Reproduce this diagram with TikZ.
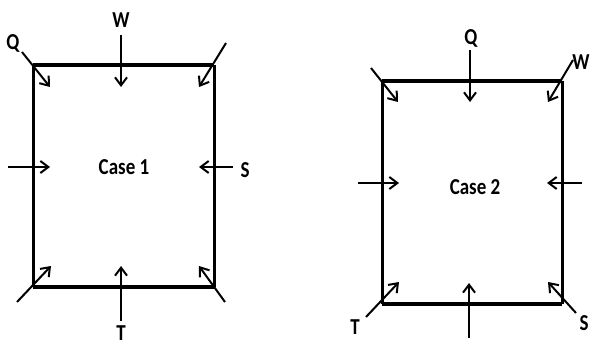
\documentclass[tikz,border=0pt]{standalone}
\usepackage{fontspec}
\setmainfont{Carlito}
\usetikzlibrary{arrows.meta}
\tikzset{
  force/.style={line width=2pt, -{Straight Barb[length=8pt,width=12pt,line width=2pt]}},
  hline/.style={line width=4pt, line cap=square},
  vline/.style={line width=3pt},
  lbl/.style={inner sep=0pt, font=\fontsize{19}{19}\selectfont\bfseries},
}
\newcommand{\tallt}[1]{\scalebox{1}[1.2]{#1}}
\begin{document}
\begin{tikzpicture}[x=1pt,y=-1pt]
\useasboundingbox (0,0) rectangle (590,345);
% ---------- Case 1 ----------
\coordinate (a1) at (33,65);
\coordinate (b1) at (214,65);
\coordinate (c1) at (214,287);
\coordinate (d1) at (33,287);
\draw[vline] (a1) -- (d1);
\draw[vline] (b1) -- (c1);
\draw[hline] (a1) -- (b1);
\draw[hline] (d1) -- (c1);
\node[lbl] (case1) at (124,167) {\tallt{Case 1}};
\node[lbl] (w1) at (121,20) {\tallt{W}};
\node[lbl] (q1) at (13,43) {\tallt{Q}};
\node[lbl] (s1) at (245,170) {\tallt{S}};
\node[lbl] (t1) at (121,333) {\tallt{T}};
\coordinate (w1s) at (121,35);   \coordinate (w1e) at (121,87);
\coordinate (q1s) at (22,52);    \coordinate (q1e) at (50,87);
\coordinate (tr1s) at (226,43);  \coordinate (tr1e) at (199,87);
\coordinate (l1s) at (8,167);    \coordinate (l1e) at (50,167);
\coordinate (r1s) at (233,167);  \coordinate (r1e) at (199,167);
\coordinate (bl1s) at (17,302);  \coordinate (bl1e) at (51,266);
\coordinate (bm1s) at (121,321); \coordinate (bm1e) at (121,266);
\coordinate (br1s) at (225,302); \coordinate (br1e) at (199,266);
\draw[force] (w1s) -- (w1e);
\draw[force] (q1s) -- (q1e);
\draw[force] (tr1s) -- (tr1e);
\draw[force] (l1s) -- (l1e);
\draw[force] (r1s) -- (r1e);
\draw[force] (bl1s) -- (bl1e);
\draw[force] (bm1s) -- (bm1e);
\draw[force] (br1s) -- (br1e);
% ---------- Case 2 ----------
\coordinate (a2) at (382,81);
\coordinate (b2) at (562,81);
\coordinate (c2) at (562,304);
\coordinate (d2) at (382,304);
\draw[vline] (a2) -- (d2);
\draw[vline] (b2) -- (c2);
\draw[hline] (a2) -- (b2);
\draw[hline] (d2) -- (c2);
\node[lbl] (case2) at (475,187) {\tallt{Case 2}};
\node[lbl] (q2) at (471,38) {\tallt{Q}};
\node[lbl] (w2) at (581,62) {\tallt{W}};
\node[lbl] (t2) at (355,327) {\tallt{T}};
\node[lbl] (s2) at (584,323) {\tallt{S}};
\coordinate (q2s) at (470,50);   \coordinate (q2e) at (470,102);
\coordinate (tr2s) at (573,60);  \coordinate (tr2e) at (548,102);
\coordinate (tl2s) at (371,68);  \coordinate (tl2e) at (398,102);
\coordinate (l2s) at (358,183);  \coordinate (l2e) at (399,183);
\coordinate (r2s) at (582,183);  \coordinate (r2e) at (547,183);
\coordinate (bl2s) at (366,317); \coordinate (bl2e) at (399,282);
\coordinate (bm2s) at (469,338); \coordinate (bm2e) at (469,283);
\coordinate (br2s) at (576,313); \coordinate (br2e) at (548,282);
\draw[force] (q2s) -- (q2e);
\draw[force] (tr2s) -- (tr2e);
\draw[force] (tl2s) -- (tl2e);
\draw[force] (l2s) -- (l2e);
\draw[force] (r2s) -- (r2e);
\draw[force] (bl2s) -- (bl2e);
\draw[force] (bm2s) -- (bm2e);
\draw[force] (br2s) -- (br2e);
\end{tikzpicture}
\end{document}
